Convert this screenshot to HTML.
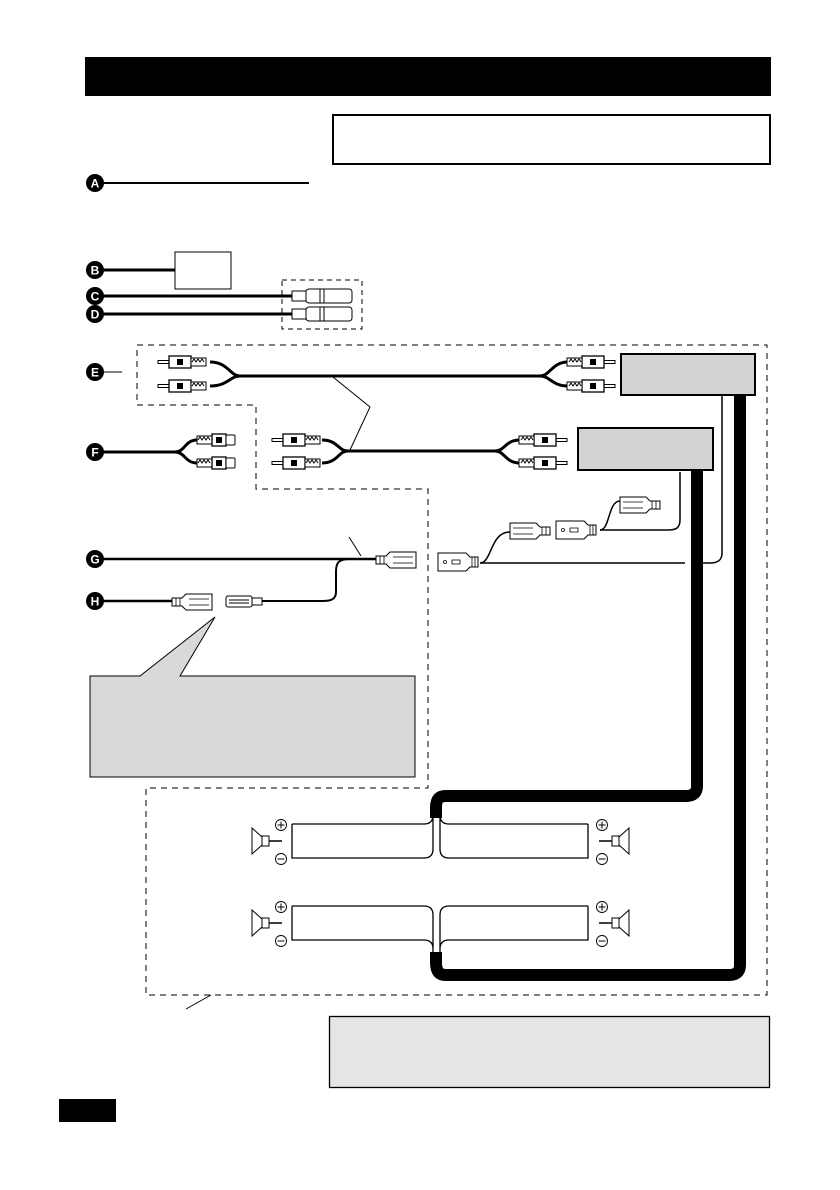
<!DOCTYPE html>
<html><head><meta charset="utf-8"><style>
html,body{margin:0;padding:0;background:#fff;}
svg{display:block;}
text{font-family:"Liberation Sans",sans-serif;font-weight:bold;}
</style></head><body>
<svg width="840" height="1190" viewBox="0 0 840 1190" xmlns="http://www.w3.org/2000/svg">
<defs>
<g id="rca">
 <rect x="0" y="-1.5" width="12" height="3" fill="#fff" stroke="#000" stroke-width="1"/>
 <rect x="11" y="-6" width="22" height="12" fill="#fff" stroke="#000" stroke-width="1.3"/>
 <rect x="19" y="-3" width="6" height="6" fill="#000"/>
 <rect x="33" y="-4" width="15" height="8" fill="#fff" stroke="#000" stroke-width="1"/>
 <path d="M34,0 l2,-3 l2,3 l2,-3 l2,3 l2,-3 l2,3" fill="none" stroke="#000" stroke-width="1"/>
</g>
<g id="fjack">
 <rect x="0" y="-4" width="15" height="8" fill="#fff" stroke="#000" stroke-width="1"/>
 <path d="M1,0 l2,-3 l2,3 l2,-3 l2,3 l2,-3 l2,3" fill="none" stroke="#000" stroke-width="1"/>
 <rect x="15" y="-6" width="14" height="12" fill="#fff" stroke="#000" stroke-width="1.3"/>
 <rect x="19" y="-3" width="6" height="6" fill="#000"/>
 <rect x="29" y="-5" width="9" height="10" rx="1" fill="#fff" stroke="#000" stroke-width="1"/>
</g>
<g id="spk">
 <path d="M0,-13 L10,-4 L10,4 L0,13 Z" fill="#fff" stroke="#000" stroke-width="1"/>
 <rect x="10" y="-5" width="7" height="10" fill="#fff" stroke="#000" stroke-width="1"/>
 <line x1="17" y1="0" x2="30" y2="0" stroke="#000" stroke-width="1.5"/>
</g>
<g id="plus"><circle r="5.5" fill="#fff" stroke="#000" stroke-width="0.9"/><path d="M-3.5,0h7M0,-3.5v7" stroke="#000" stroke-width="1"/></g>
<g id="minus"><circle r="5.5" fill="#fff" stroke="#000" stroke-width="0.9"/><path d="M-3.5,0h7" stroke="#000" stroke-width="1"/></g>
<g id="fast">
 <path d="M0,-4 h10 l4,-4 h26 v16 h-26 l-4,-4 h-10 z" fill="#fff" stroke="#000" stroke-width="1"/>
 <path d="M4,-4v8M8,-4v8M17,-3h20M17,3h20" stroke="#000" stroke-width="0.8"/>
</g>
<g id="ffem">
 <path d="M0,-9 h28 l4,4 h8 v10 h-8 l-4,4 h-28 z" fill="#fff" stroke="#000" stroke-width="1"/>
 <circle cx="7" cy="0" r="1.5" fill="none" stroke="#000" stroke-width="0.8"/>
 <path d="M14,-2h8v4h-8z M34,-5v10 M37,-5v10" fill="none" stroke="#000" stroke-width="0.8"/>
</g>
</defs>

<rect x="85" y="57" width="686" height="39" fill="#000"/>
<rect x="333" y="115" width="437" height="49" fill="#fff" stroke="#000" stroke-width="2"/>

<line x1="95" y1="183" x2="309" y2="183" stroke="#000" stroke-width="2"/>
<line x1="95" y1="270" x2="175" y2="270" stroke="#000" stroke-width="3"/>
<rect x="175" y="252" width="56" height="37" fill="#fff" stroke="#000" stroke-width="1"/>
<line x1="95" y1="296" x2="292" y2="296" stroke="#000" stroke-width="3"/>
<line x1="95" y1="314" x2="292" y2="314" stroke="#000" stroke-width="3"/>
<rect x="282" y="280" width="80" height="49" fill="none" stroke="#000" stroke-width="1" stroke-dasharray="5,4"/>
<g stroke="#000" stroke-width="1" fill="#fff">
 <rect x="292" y="291" width="14" height="10"/><rect x="306" y="289" width="46" height="14" rx="3"/>
 <path d="M320,289v14M324,289v14" fill="none"/>
 <rect x="292" y="309" width="14" height="10"/><rect x="306" y="307" width="46" height="14" rx="3"/>
 <path d="M320,307v14M324,307v14" fill="none"/>
</g>

<path d="M137,345 H767 V995 H146 V788 H428 V489 H256 V405 H137 Z" fill="none" stroke="#000" stroke-width="1" stroke-dasharray="6,5"/>
<line x1="103" y1="372" x2="122" y2="372" stroke="#000" stroke-width="1"/>

<path d="M210,362 C228,362 230,376 240,376 H540 C550,376 552,362 568,362" fill="none" stroke="#000" stroke-width="3"/>
<path d="M210,386 C228,386 230,376 240,376 M540,376 C550,376 552,386 568,386" fill="none" stroke="#000" stroke-width="3"/>
<use href="#rca" x="158" y="362"/><use href="#rca" x="158" y="386"/>
<use href="#rca" transform="translate(615,362) scale(-1,1)"/><use href="#rca" transform="translate(615,386) scale(-1,1)"/>
<rect x="621" y="354" width="134" height="41" fill="#d3d3d3" stroke="#000" stroke-width="2"/>

<path d="M95,452 H175 C185,452 185,440 197,440 M175,452 C185,452 185,463 197,463" fill="none" stroke="#000" stroke-width="3"/>
<use href="#fjack" x="197" y="440"/><use href="#fjack" x="197" y="463"/>
<path d="M322,440 C338,440 338,451 348,451 H495 C505,451 505,440 520,440 M322,463 C338,463 338,451 348,451 M495,451 C505,451 505,463 520,463" fill="none" stroke="#000" stroke-width="3"/>
<use href="#rca" x="272" y="440"/><use href="#rca" x="272" y="463"/>
<use href="#rca" transform="translate(567,440) scale(-1,1)"/><use href="#rca" transform="translate(567,463) scale(-1,1)"/>
<rect x="578" y="428" width="135" height="42" fill="#d3d3d3" stroke="#000" stroke-width="2"/>
<polyline points="333,377 370,407 350,450" fill="none" stroke="#000" stroke-width="1"/>

<line x1="95" y1="559" x2="378" y2="559" stroke="#000" stroke-width="2.5"/>
<path d="M350,559 C338,559 336,563 336,572 V592 C336,600 330,601 322,601 H262" fill="none" stroke="#000" stroke-width="2"/>
<line x1="349" y1="537" x2="361" y2="556" stroke="#000" stroke-width="1"/>
<use href="#fast" x="376" y="560"/>
<line x1="95" y1="601" x2="172" y2="601" stroke="#000" stroke-width="2.5"/>
<use href="#fast" x="172" y="602"/>
<g fill="#fff" stroke="#000" stroke-width="1"><rect x="226" y="596" width="26" height="11" rx="2"/><rect x="252" y="598" width="10" height="7"/>
<path d="M229,600h20M229,603h20" fill="none"/></g>

<path d="M90,676 H140 L215,617 L180,676 H415 V777 H90 Z" fill="#d9d9d9" stroke="#000" stroke-width="1"/>

<path d="M680,472 V520 C680,528 676,530 668,530 H600" fill="none" stroke="#000" stroke-width="1.5"/>
<path d="M722,395 V553 C722,560 718,563 710,563 H703" fill="none" stroke="#000" stroke-width="1.5"/>
<path d="M480,563 H685" fill="none" stroke="#000" stroke-width="1.5"/>
<path d="M480,563 C492,563 490,532 510,532" fill="none" stroke="#000" stroke-width="1.5"/>
<path d="M600,530 C610,530 608,501 620,501" fill="none" stroke="#000" stroke-width="1.5"/>
<use href="#ffem" x="438" y="562"/>
<use href="#fast" transform="translate(550,531) scale(-1,1)"/>
<use href="#fast" transform="translate(660,505) scale(-1,1)"/>
<use href="#ffem" x="556" y="530"/>

<path d="M697,470 V786 C697,793 693,796 686,796 H446 C438,796 436,800 436,808 V818" fill="none" stroke="#000" stroke-width="12"/>
<path d="M740,395 V965 C740,972 736,975 729,975 H446 C438,975 436,970 436,962 V952" fill="none" stroke="#000" stroke-width="12"/>

<g fill="none" stroke="#000" stroke-width="1.3">
 <path d="M292,824 V858 H424 Q433,858 433,849 V812 M292,824 H424 Q433,824 433,815"/>
 <path d="M588,824 V858 H449 Q440,858 440,849 V812 M588,824 H449 Q440,824 440,815"/>
 <path d="M292,906 H424 Q433,906 433,915 V956 M292,906 V940 H424 Q433,940 433,949"/>
 <path d="M588,906 H449 Q440,906 440,915 V956 M588,906 V940 H449 Q440,940 440,949"/>
</g>
<use href="#spk" transform="translate(252,841)"/><use href="#spk" transform="translate(629,841) scale(-1,1)"/>
<use href="#spk" transform="translate(252,923)"/><use href="#spk" transform="translate(629,923) scale(-1,1)"/>
<use href="#plus" x="281" y="825"/><use href="#minus" x="281" y="859"/>
<use href="#plus" x="602" y="825"/><use href="#minus" x="602" y="859"/>
<use href="#plus" x="281" y="907"/><use href="#minus" x="281" y="941"/>
<use href="#plus" x="602" y="907"/><use href="#minus" x="602" y="941"/>

<line x1="186" y1="1009" x2="211" y2="995" stroke="#000" stroke-width="1"/>

<rect x="329.5" y="1016.5" width="440" height="71" fill="#e5e5e5" stroke="#000" stroke-width="1.3"/>
<rect x="59" y="1099" width="57" height="23" fill="#000"/>

<g font-size="12" text-anchor="middle" fill="#fff">
 <circle cx="95" cy="183" r="9" fill="#000"/><text x="95" y="187.5">A</text>
 <circle cx="95" cy="270" r="9" fill="#000"/><text x="95" y="274.5">B</text>
 <circle cx="95" cy="296" r="9" fill="#000"/><text x="95" y="300.5">C</text>
 <circle cx="95" cy="314" r="9" fill="#000"/><text x="95" y="318.5">D</text>
 <circle cx="95" cy="372" r="9" fill="#000"/><text x="95" y="376.5">E</text>
 <circle cx="95" cy="452" r="9" fill="#000"/><text x="95" y="456.5">F</text>
 <circle cx="95" cy="559" r="9" fill="#000"/><text x="95" y="563.5">G</text>
 <circle cx="95" cy="601" r="9" fill="#000"/><text x="95" y="605.5">H</text>
</g>
</svg>
</body></html>
